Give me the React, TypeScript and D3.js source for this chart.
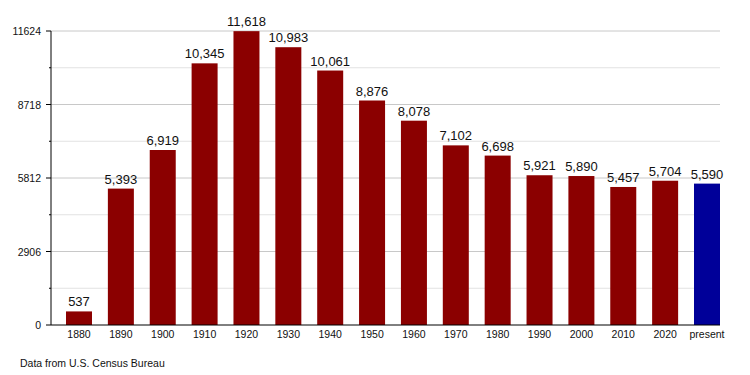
import React, { useEffect, useRef } from "react";
import * as d3 from "d3";

const years = ["1880", "1890", "1900", "1910", "1920", "1930", "1940", "1950", "1960", "1970", "1980", "1990", "2000", "2010", "2020", "present"];
const population = [537, 5393, 6919, 10345, 11618, 10983, 10061, 8876, 8078, 7102, 6698, 5921, 5890, 5457, 5704, 5590];
const majorTicks = [0, 2906, 5812, 8718, 11624];
const minorTicks = [1453, 4359, 7265, 10171];

export default function App() {
    const svgRef = useRef<SVGSVGElement>(null);

    useEffect(() => {
        const svg = d3.select(svgRef.current);
        svg.selectAll("*").remove();

        const left = 51;
        const right = 720;
        const top = 31;
        const bottom = 325;
        const font = "'Liberation Sans', Arial, sans-serif";

        const x = d3.scaleBand<string>()
            .domain(years)
            .range([66, right])
            .paddingInner(0.379)
            .paddingOuter(0);

        const y = d3.scaleLinear().domain([0, 11624]).range([bottom, top]);

        // grid
        svg.append("g").selectAll("line")
            .data(minorTicks)
            .enter().append("line")
            .attr("x1", left).attr("x2", right)
            .attr("y1", d => y(d)).attr("y2", d => y(d))
            .attr("stroke", "#e2e2e2");
        svg.append("g").selectAll("line")
            .data(majorTicks.slice(1))
            .enter().append("line")
            .attr("x1", left).attr("x2", right)
            .attr("y1", d => y(d)).attr("y2", d => y(d))
            .attr("stroke", "#c8c8c8");

        // bars
        svg.append("g").selectAll("rect")
            .data(population)
            .enter().append("rect")
            .attr("x", (d, i) => x(years[i])!)
            .attr("width", x.bandwidth())
            .attr("y", d => y(d))
            .attr("height", d => bottom - y(d))
            .attr("fill", (d, i) => years[i] === "present" ? "#000099" : "#8b0000");

        // value labels
        svg.append("g").selectAll("text")
            .data(population)
            .enter().append("text")
            .attr("x", (d, i) => x(years[i])! + x.bandwidth() / 2)
            .attr("y", d => y(d) - 5)
            .attr("text-anchor", "middle")
            .attr("font-family", font)
            .attr("font-size", 13)
            .attr("fill", "#111")
            .text(d => d3.format(",")(d));

        // axes
        svg.append("line")
            .attr("x1", left).attr("x2", left)
            .attr("y1", top).attr("y2", bottom)
            .attr("stroke", "#000");
        svg.append("line")
            .attr("x1", left).attr("x2", right)
            .attr("y1", bottom).attr("y2", bottom)
            .attr("stroke", "#000");

        svg.append("g").selectAll("line")
            .data(majorTicks)
            .enter().append("line")
            .attr("x1", left - 5).attr("x2", left)
            .attr("y1", d => y(d)).attr("y2", d => y(d))
            .attr("stroke", "#000");
        svg.append("g").selectAll("line")
            .data(minorTicks)
            .enter().append("line")
            .attr("x1", left - 2).attr("x2", left)
            .attr("y1", d => y(d)).attr("y2", d => y(d))
            .attr("stroke", "#000");

        svg.append("g").selectAll("text")
            .data(majorTicks)
            .enter().append("text")
            .attr("x", left - 10)
            .attr("y", d => y(d) + 4)
            .attr("text-anchor", "end")
            .attr("font-family", font)
            .attr("font-size", 10.5)
            .attr("fill", "#111")
            .text(d => d);

        svg.append("g").selectAll("text")
            .data(years)
            .enter().append("text")
            .attr("x", d => x(d)! + x.bandwidth() / 2)
            .attr("y", bottom + 13)
            .attr("text-anchor", "middle")
            .attr("font-family", font)
            .attr("font-size", 10.5)
            .attr("fill", "#111")
            .text(d => d);

        svg.append("text")
            .attr("x", 20)
            .attr("y", 367)
            .attr("font-family", font)
            .attr("font-size", 10.5)
            .attr("fill", "#111")
            .text("Data from U.S. Census Bureau");
    }, []);

    return (
        <div style={{ position: "absolute", left: 0, top: 0 }}>
            <svg ref={svgRef} width={750} height={375} style={{ display: "block" }}></svg>
        </div>
    );
}
